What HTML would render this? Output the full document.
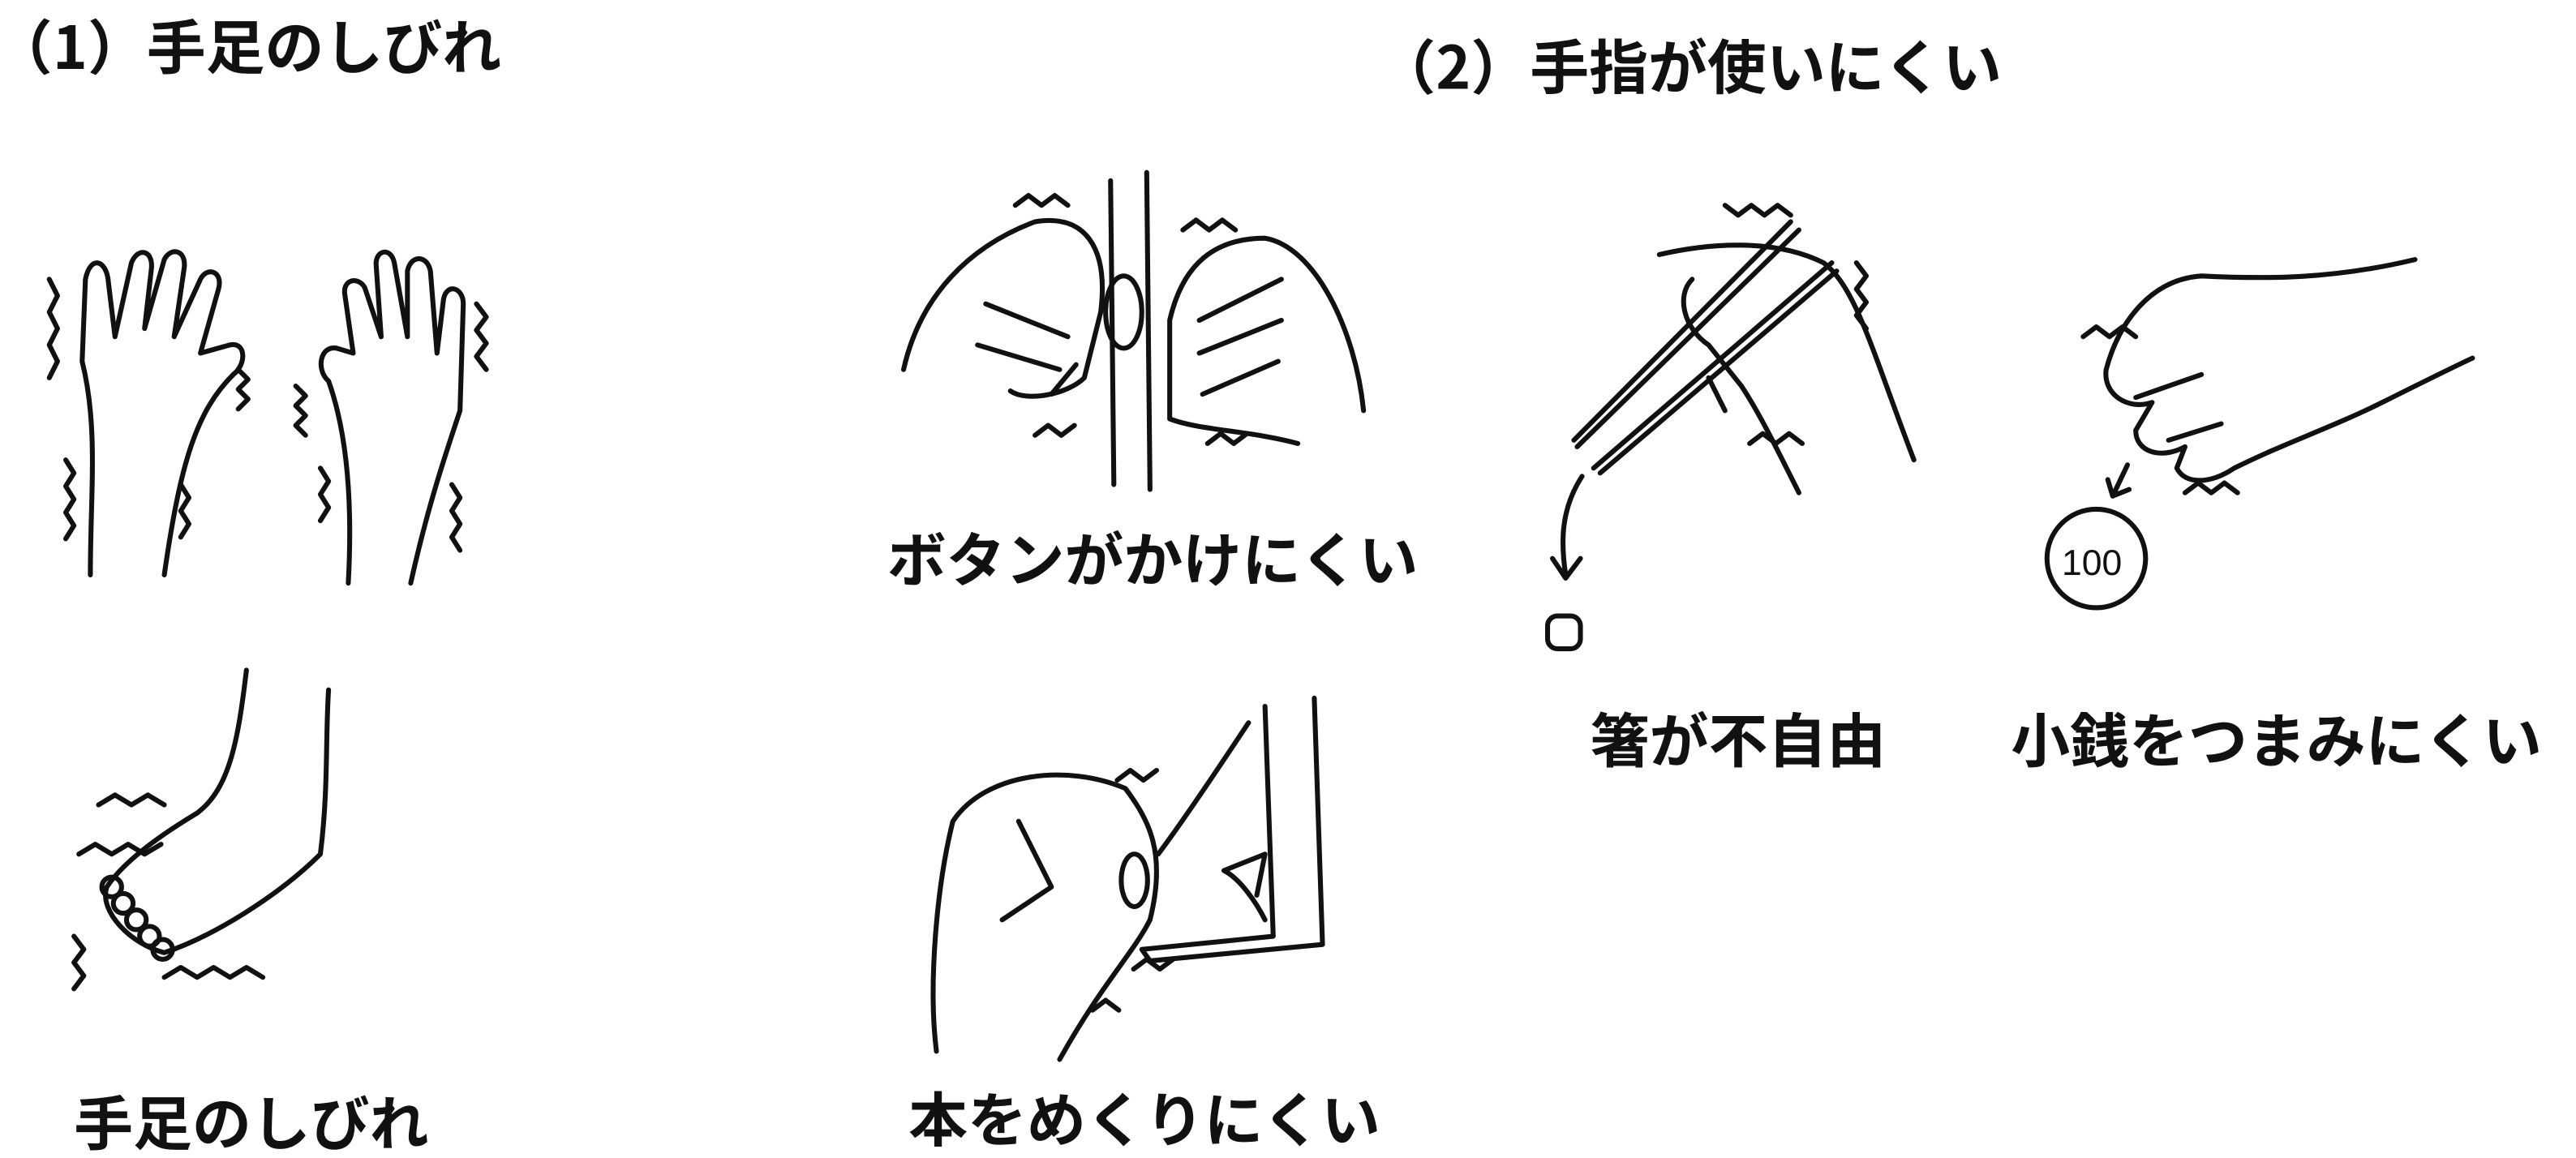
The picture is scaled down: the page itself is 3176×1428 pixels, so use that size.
<!DOCTYPE html>
<html><head><meta charset="utf-8"><style>
html,body{margin:0;padding:0;background:#fff;}
svg{display:block}
text{font-family:"Noto Sans CJK JP","Liberation Sans",sans-serif;font-weight:bold;fill:#111;font-size:36px}
.s{fill:none;stroke:#111;stroke-width:3;stroke-linecap:round;stroke-linejoin:round}
</style></head><body>
<svg width="3176" height="1428" viewBox="0 0 1568 705" xmlns="http://www.w3.org/2000/svg">
<text x="-4" y="42">（1）手足のしびれ</text>
<text x="838" y="54">（2）手指が使いにくい</text>
<text x="540" y="354">ボタンがかけにくい</text>
<text x="968" y="464">箸が不自由</text>
<text x="1224" y="464">小銭をつまみにくい</text>
<text x="45" y="697">手足のしびれ</text>
<text x="553" y="695">本をめくりにくい</text>

<!-- left hand -->
<path class="s" d="M55 350 C55 300 60 260 50 220 L52 170 C55 155 65 158 66 172 L70 205 L80 160 C84 150 94 152 92 165 L88 200 L100 158 C104 150 114 152 112 164 L106 205 L122 170 C126 162 136 165 133 176 L122 215 L140 210 C150 208 150 222 142 228 C120 250 110 280 100 350"/>
<!-- right hand -->
<path class="s" d="M250 355 C260 310 270 280 280 250 L282 185 C282 175 272 172 270 182 L266 215 L262 165 C260 155 250 155 248 165 L248 205 L240 160 C238 150 228 152 229 162 L232 205 L222 175 C218 168 208 170 210 180 L215 215 L205 212 C195 210 192 225 200 232 C210 260 215 300 212 355"/>
<path class="s" d="M30 170 l5 10 l-5 10 l5 10 l-5 10 l5 10 l-5 10 M40 280 l5 8 l-5 8 l5 8 l-5 8 l5 8 l-5 8 M290 185 l6 8 l-6 8 l6 8 l-6 8 l6 8 M275 295 l5 8 l-5 8 l5 8 l-5 8 l5 8 M195 285 l5 8 l-5 8 l5 8 l-5 8 M180 235 l6 6 l-6 6 l6 6 l-6 6 l6 6 M145 225 l6 6 l-6 6 l6 6 l-6 6 M110 295 l5 8 l-5 8 l5 8 l-5 8"/>
<!-- foot -->
<path class="s" d="M150 408 C145 450 140 480 120 495 C95 510 75 525 65 540 C60 555 80 575 100 580 C130 570 170 545 195 520 C200 480 198 450 200 420"/>
<circle class="s" cx="68" cy="540" r="6"/><circle class="s" cx="75" cy="550" r="6"/><circle class="s" cx="83" cy="560" r="6"/><circle class="s" cx="91" cy="570" r="6"/><circle class="s" cx="99" cy="578" r="6"/>
<path class="s" d="M48 520 l10 -6 l10 6 l10 -6 l10 6 l10 -6 M60 490 l10 -6 l10 6 l10 -6 l10 6 M45 570 l6 8 l-6 8 l6 8 l-6 8 M100 595 l10 -6 l10 6 l10 -6 l10 6 l10 -6 l10 6"/>
<!-- button -->
<path class="s" d="M676 110 L678 295 M698 105 L700 298"/>
<path class="s" d="M550 225 C560 180 590 150 630 135 C660 130 675 150 670 190 L660 230 C650 240 625 245 615 238 M600 185 L650 205 M595 210 L645 225 M640 240 L655 222"/>
<path class="s" d="M830 250 C825 200 800 150 770 145 C740 145 720 160 712 195 L712 255 C730 262 760 262 790 270 M730 195 L780 170 M730 215 L780 195 M732 240 L778 220"/>
<ellipse class="s" cx="684" cy="190" rx="11" ry="22"/>
<path class="s" d="M618 125 l8 -6 l8 6 l8 -6 l8 6 M720 140 l8 -6 l8 6 l8 -6 l8 6 M630 265 l8 -6 l8 6 l8 -6 M735 270 l8 -6 l8 6 l8 -6"/>
<!-- book -->
<path class="s" d="M770 430 L775 570 L695 578 M800 425 L805 575 L700 585 L695 578 M760 440 C740 470 720 500 705 520"/>
<path class="s" d="M570 640 C565 600 570 540 580 500 C600 470 650 465 685 480 C700 500 710 520 700 560 C690 580 670 600 645 645 M620 500 L640 540 L610 560 M690 520 a8 16 0 1 0 1 0"/>
<path class="s" d="M745 530 L770 520 L765 545 M745 530 C755 535 765 550 770 560"/>
<path class="s" d="M680 475 l8 -6 l8 6 l8 -6 M690 590 l8 -6 l8 6 l8 -6 M665 615 l8 -6 l8 6"/>
<!-- chopsticks -->
<path class="s" d="M958 268 L1090 135 M960 272 L1095 140 M970 285 L1115 160 M974 288 L1118 165"/>
<path class="s" d="M1010 155 C1040 148 1080 145 1110 160 C1130 175 1140 215 1165 280 M1030 170 C1020 180 1025 200 1040 210 L1060 235 C1070 250 1080 270 1095 300 M1040 230 L1050 250"/>
<path class="s" d="M1050 125 l8 6 l8 -6 l8 6 l8 -6 l8 6 M1130 160 l6 8 l-6 8 l6 8 l-6 8 l6 8 M1065 270 l8 -6 l8 6 l8 -6 l8 6"/>
<path class="s" d="M963 290 C950 310 950 330 953 350 M945 340 L953 352 L962 340"/>
<rect class="s" x="942" y="375" width="20" height="20" rx="6"/>
<!-- coin hand -->
<path class="s" d="M1470 158 C1420 170 1380 170 1340 168 C1310 170 1290 195 1282 225 C1280 240 1295 250 1310 245 L1300 262 C1300 275 1315 280 1330 272 L1325 285 C1330 295 1345 295 1360 285 C1390 270 1420 260 1450 245 C1470 235 1490 225 1505 218"/>
<path class="s" d="M1300 242 L1340 228 M1320 268 L1352 258"/>
<path class="s" d="M1268 205 l8 -6 l8 6 l8 -6 l8 6 M1330 300 l8 -6 l8 6 l8 -6 l8 6"/>
<path class="s" d="M1295 283 L1286 302 M1283 292 L1286 302 L1296 298"/>
<circle class="s" cx="1276" cy="340" r="30"/>
<text x="1255" y="350" style="font-size:22px;font-weight:normal;font-family:'Liberation Sans',sans-serif">100</text>
</svg>
</body></html>
